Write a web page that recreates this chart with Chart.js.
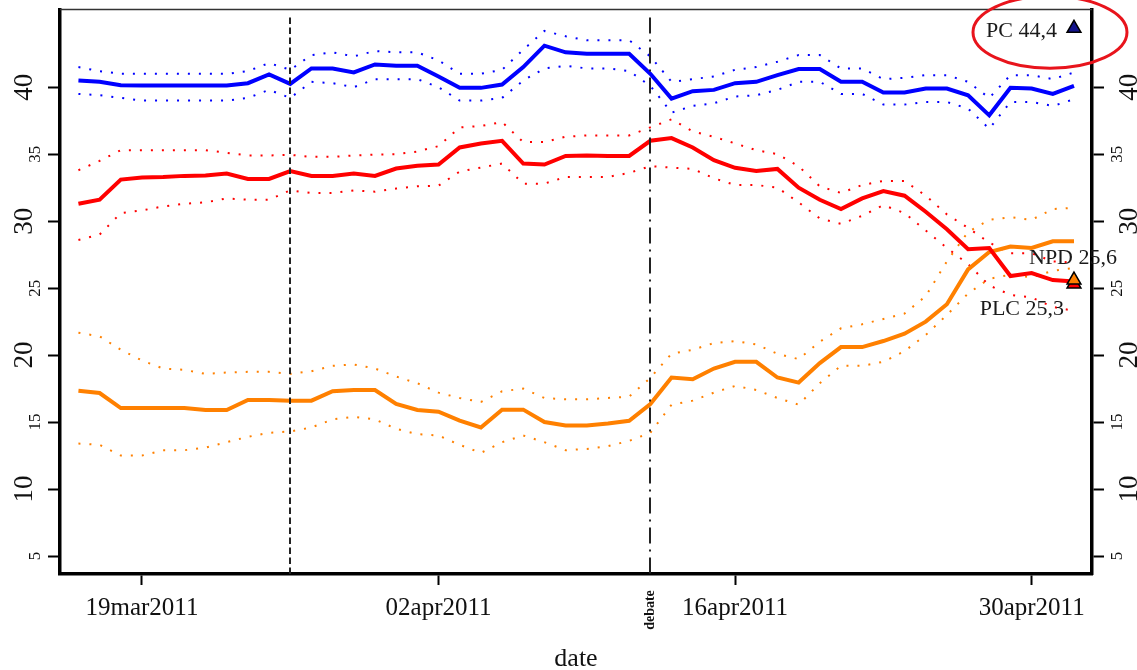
<!DOCTYPE html>
<html>
<head>
<meta charset="utf-8">
<script src="https://cdn.jsdelivr.net/npm/chart.js@4.4.1/dist/chart.umd.min.js"></script>
<style>
html, body { margin: 0; padding: 0; background: #fff; }
#wrap { width: 1137px; height: 670px; position: relative; }
</style>
</head>
<body>
<div id="wrap"><canvas id="pollchart"></canvas></div>
<script>
// days counted from 19mar2011 (0)
var days = [-3, -2, -1, 0, 1, 2, 3, 4, 5, 6,
    7, 8, 9, 10, 11, 12, 13, 14, 15, 16,
    17, 18, 19, 20, 21, 22, 23, 24, 25, 26,
    27, 28, 29, 30, 31, 32, 33, 34, 35, 36,
    37, 38, 39, 40, 41, 42, 43, 44];

var dateTicks = [0, 14, 28, 42];
var dateLabels = ['19mar2011', '02apr2011', '16apr2011', '30apr2011'];
var pctTicks = [5, 10, 15, 20, 25, 30, 35, 40];

var eventDays = [7, 24];
var eventNames = ['', 'debate'];

// PC (blue)
var pc = [40.5, 40.4, 40.15, 40.13, 40.13, 40.13, 40.13, 40.13, 40.3, 40.95,
    40.25, 41.4, 41.4, 41.1, 41.7, 41.6, 41.6, 40.8, 39.95, 39.95,
    40.2, 41.5, 43.1, 42.6, 42.5, 42.5, 42.5, 41.0, 39.15, 39.7,
    39.8, 40.3, 40.4, 40.9, 41.35, 41.35, 40.4, 40.4, 39.6, 39.6,
    39.9, 39.9, 39.4, 37.9, 39.95, 39.9, 39.5, 40.1];
var pcHi = [41.5, 41.2, 41.0, 41.0, 41.0, 41.0, 41.0, 41.0, 41.2, 41.8,
    41.3, 42.4, 42.6, 42.3, 42.7, 42.6, 42.6, 42.0, 41.0, 41.0,
    41.3, 42.8, 44.2, 43.8, 43.5, 43.5, 43.5, 42.3, 40.4, 40.6,
    40.8, 41.3, 41.5, 41.9, 42.4, 42.4, 41.4, 41.4, 40.6, 40.7,
    40.9, 40.9, 40.4, 39.2, 40.9, 40.9, 40.6, 41.1];
var pcLo = [39.5, 39.4, 39.2, 39.0, 39.0, 39.0, 39.0, 39.0, 39.2, 39.8,
    39.2, 40.4, 40.3, 40.0, 40.6, 40.6, 40.6, 40.0, 39.0, 39.0,
    39.2, 40.5, 41.4, 41.6, 41.4, 41.4, 41.2, 40.1, 38.1, 38.6,
    38.8, 39.3, 39.4, 39.8, 40.4, 40.4, 39.5, 39.5, 38.7, 38.7,
    38.9, 38.9, 38.4, 36.9, 38.9, 38.9, 38.6, 39.1];

// PLC (red)
var plc = [31.3, 31.6, 33.1, 33.26, 33.3, 33.38, 33.4, 33.56, 33.15, 33.15,
    33.74, 33.38, 33.38, 33.56, 33.38, 33.93, 34.13, 34.23, 35.5, 35.8,
    36.0, 34.3, 34.23, 34.87, 34.9, 34.87, 34.87, 36.0, 36.2, 35.5,
    34.55, 33.98, 33.74, 33.9, 32.5, 31.6, 30.9, 31.7, 32.25, 31.9,
    30.7, 29.4, 27.9, 28.0, 25.9, 26.13, 25.6, 25.5];
var plcHi = [33.8, 34.5, 35.3, 35.3, 35.3, 35.3, 35.3, 35.1, 34.9, 34.9,
    34.95, 34.8, 34.8, 34.9, 34.97, 35.0, 35.2, 35.6, 37.0, 37.1,
    37.4, 35.9, 35.9, 36.3, 36.4, 36.4, 36.4, 37.0, 37.6, 36.7,
    36.3, 35.8, 35.3, 35.0, 34.1, 32.6, 32.1, 32.7, 33.0, 33.0,
    31.9, 30.5, 29.5, 28.4, 27.6, 27.6, 27.0, 26.9];
var plcLo = [28.6, 29.0, 30.6, 30.8, 31.1, 31.3, 31.4, 31.7, 31.6, 31.6,
    32.3, 32.1, 32.1, 32.3, 32.2, 32.44, 32.6, 32.65, 33.7, 34.0,
    34.3, 32.8, 32.8, 33.3, 33.3, 33.3, 33.6, 34.1, 34.0, 33.9,
    33.2, 32.7, 32.7, 32.5, 31.4, 30.2, 29.8, 30.4, 31.2, 30.6,
    29.3, 28.0, 26.8, 25.2, 24.5, 24.3, 23.6, 23.3];

// NPD (orange)
var npd = [17.34, 17.17, 16.05, 16.05, 16.05, 16.05, 15.9, 15.9, 16.65, 16.65,
    16.6, 16.6, 17.3, 17.39, 17.39, 16.35, 15.9, 15.78, 15.11, 14.6,
    15.93, 15.93, 15.0, 14.74, 14.74, 14.9, 15.1, 16.35, 18.33, 18.2,
    19.0, 19.5, 19.5, 18.33, 17.95, 19.4, 20.6, 20.6, 21.05, 21.6,
    22.5, 23.8, 26.4, 27.7, 28.1, 28.0, 28.5, 28.5];
var npdHi = [21.67, 21.4, 20.4, 19.6, 19.0, 18.9, 18.6, 18.7, 18.75, 18.75,
    18.6, 18.8, 19.2, 19.3, 19.0, 18.4, 17.9, 17.2, 16.8, 16.5,
    17.3, 17.5, 16.8, 16.7, 16.7, 16.8, 16.9, 18.3, 20.1, 20.4,
    20.9, 21.05, 20.8, 20.1, 19.7, 21.0, 22.0, 22.3, 22.7, 23.1,
    24.4, 27.0, 29.2, 30.1, 30.3, 30.1, 30.9, 31.0];
var npdLo = [13.4, 13.3, 12.5, 12.5, 12.9, 12.9, 13.1, 13.5, 13.9, 14.2,
    14.3, 14.6, 15.2, 15.4, 15.2, 14.5, 14.1, 14.0, 13.3, 12.7,
    13.5, 14.0, 13.5, 12.9, 13.0, 13.2, 13.6, 14.2, 16.3, 16.6,
    17.2, 17.7, 17.4, 16.8, 16.3, 17.9, 19.2, 19.2, 19.5, 20.3,
    21.5, 23.0, 24.6, 25.7, 26.0, 25.8, 26.3, 26.5];

// election result markers
var finalDay = 44;
var finalNames = ['PC 44,4', 'NPD 25,6', 'PLC 25,3'];
var finalValues = [44.4, 25.6, 25.3];

function pts(vals) {
    return vals.map(function (v, i) { return {x: days[i], y: v}; });
}

var serif = '"Liberation Serif", "DejaVu Serif", serif';

function mainLine(label, vals, color) {
    return {label: label, data: pts(vals), borderColor: color, borderWidth: 4,
        pointRadius: 0, tension: 0, fill: false};
}
function ciLine(label, vals, color) {
    return {label: label, data: pts(vals), borderColor: color, borderWidth: 2,
        borderDash: [2, 9], pointRadius: 0, tension: 0, fill: false};
}
function marker(label, val, fill) {
    return {label: label, data: [{x: finalDay, y: val}], showLine: false,
        pointStyle: 'triangle', pointRadius: 8, backgroundColor: fill,
        borderColor: '#000', borderWidth: 1.5};
}

var annot = {
    id: 'annot',
    afterDatasetsDraw: function (chart) {
        var ctx = chart.ctx, xs = chart.scales.x, area = chart.chartArea;
        var dashes = [[6.5, 3.5], [16, 6, 2, 6]];
        ctx.save();
        ctx.strokeStyle = '#222';
        ctx.lineWidth = 2;
        for (var i = 0; i < eventDays.length; i++) {
            var px = Math.round(xs.getPixelForValue(eventDays[i]));
            ctx.setLineDash(dashes[i]);
            ctx.beginPath();
            ctx.moveTo(px, area.top + 8);
            ctx.lineTo(px, area.bottom + (i === 1 ? 5 : 0));
            ctx.stroke();
        }
        ctx.restore();
    },
    afterDraw: function (chart) {
        var ctx = chart.ctx, xs = chart.scales.x, ys = chart.scales.y, area = chart.chartArea;
        ctx.save();
        // top frame line
        ctx.strokeStyle = '#333';
        ctx.lineWidth = 1.5;
        ctx.beginPath();
        ctx.moveTo(area.left, area.top);
        ctx.lineTo(area.right, area.top);
        ctx.stroke();

        // rotated y tick labels, both sides
        ctx.fillStyle = '#111';
        ctx.textAlign = 'center';
        ctx.textBaseline = 'middle';
        pctTicks.forEach(function (v) {
            var big = v % 10 === 0;
            var py = ys.getPixelForValue(v);
            ctx.font = (big ? 27 : 17) + 'px ' + serif;
            [area.left - (big ? 36 : 25), area.right + (big ? 37 : 25)].forEach(function (px) {
                ctx.save();
                ctx.translate(px, py);
                ctx.rotate(-Math.PI / 2);
                ctx.fillText(String(v), 0, 1);
                ctx.restore();
            });
        });

        // event label under the axis
        eventDays.forEach(function (d, i) {
            if (!eventNames[i]) return;
            ctx.save();
            ctx.translate(xs.getPixelForValue(d), area.bottom + 36);
            ctx.rotate(-Math.PI / 2);
            ctx.font = 'bold 14px ' + serif;
            ctx.fillText(eventNames[i], 0, 0);
            ctx.restore();
        });

        // result labels
        var fx = xs.getPixelForValue(finalDay);
        var offs = [[-17, 3, 'right'], [-45, -22, 'left'], [-10, 25, 'right']];
        ctx.font = '22px ' + serif;
        ctx.fillStyle = '#1a1a1a';
        finalNames.forEach(function (name, i) {
            var fy = ys.getPixelForValue(finalValues[i]);
            ctx.textAlign = offs[i][2];
            ctx.fillText(name, fx + offs[i][0], fy + offs[i][1]);
        });

        // red ellipse round the PC result
        var ey = ys.getPixelForValue(finalValues[0]);
        ctx.strokeStyle = '#e8141c';
        ctx.lineWidth = 3;
        ctx.beginPath();
        ctx.ellipse(fx - 24, ey + 4, 77, 36, 0, 0, Math.PI * 2);
        ctx.stroke();
        ctx.restore();
    }
};

var yAxis = function (pos, w) {
    return {
        type: 'linear', position: pos, min: 3.66, max: 45.8,
        afterBuildTicks: function (s) { s.ticks = pctTicks.map(function (v) { return {value: v}; }); },
        ticks: {display: false},
        grid: {drawOnChartArea: false, drawTicks: true, tickLength: 12, tickWidth: 2, tickColor: '#000'},
        border: {display: true, color: '#000', width: 3.5},
        afterFit: function (s) { s.width = w; }
    };
};

var ctx = document.getElementById('pollchart').getContext('2d');
var pollchart = new Chart(ctx, {
    type: 'line',
    data: {
        datasets: [
            marker('PC result', finalValues[0], '#14148c'),
            marker('NPD result', finalValues[1], '#ff8000'),
            marker('PLC result', finalValues[2], '#ff0000'),
            mainLine('PC', pc, '#0000ff'),
            mainLine('PLC', plc, '#ff0000'),
            mainLine('NPD', npd, '#ff8000'),
            ciLine('PC hi', pcHi, '#0000ff'),
            ciLine('PC lo', pcLo, '#0000ff'),
            ciLine('PLC hi', plcHi, '#ff0000'),
            ciLine('PLC lo', plcLo, '#ff0000'),
            ciLine('NPD hi', npdHi, '#ff8000'),
            ciLine('NPD lo', npdLo, '#ff8000')
        ]
    },
    options: {
        responsive: true,
        maintainAspectRatio: false,
        animation: false,
        layout: {padding: {top: 7, left: 0, right: 0, bottom: 0}},
        plugins: {legend: {display: false}, tooltip: {enabled: false}},
        scales: {
            x: {
                type: 'linear', position: 'bottom', min: -3.87, max: 44.85,
                afterBuildTicks: function (s) { s.ticks = dateTicks.map(function (v) { return {value: v}; }); },
                ticks: {
                    autoSkip: false, maxRotation: 0, padding: 8, color: '#111',
                    font: {family: serif, size: 25},
                    callback: function (v) { return dateLabels[dateTicks.indexOf(v)]; }
                },
                grid: {drawOnChartArea: false, drawTicks: true, tickLength: 11, tickWidth: 2, tickColor: '#000'},
                border: {display: true, color: '#000', width: 3.5},
                title: {display: true, text: 'date', color: '#111', font: {family: serif, size: 26}, padding: {top: 0, bottom: -5}},
                afterFit: function (s) { s.height = 96; }
            },
            y: yAxis('left', 60),
            y2: yAxis('right', 45)
        }
    },
    plugins: [annot]
});
</script>
</body>
</html>
